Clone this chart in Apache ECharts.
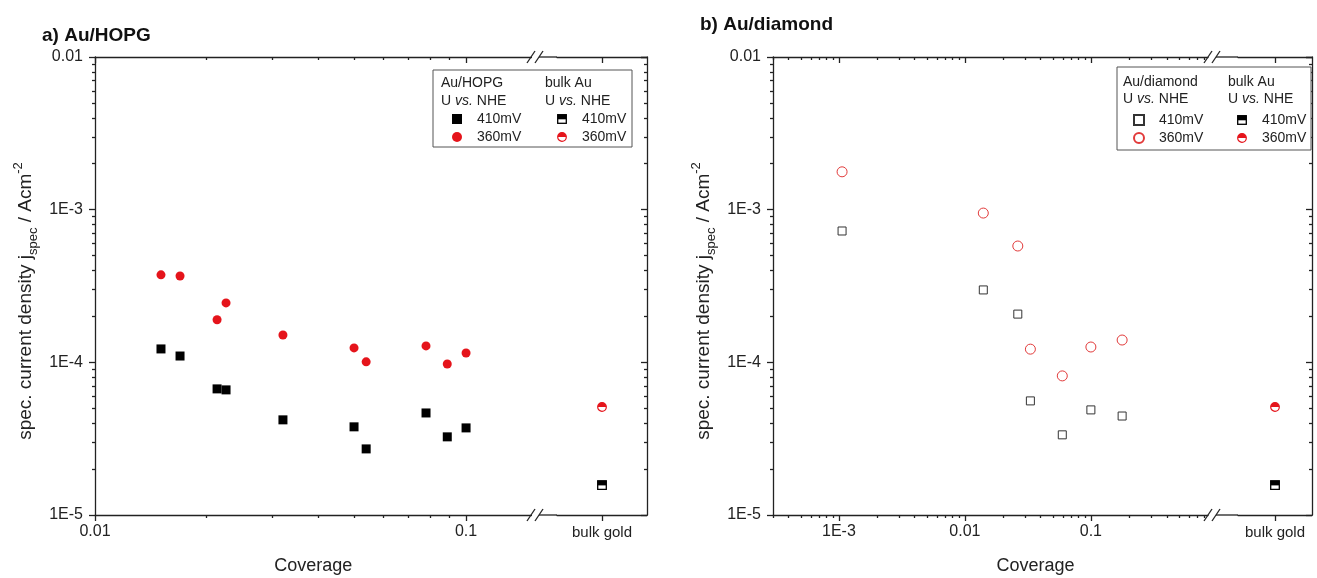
<!DOCTYPE html>
<html><head><meta charset="utf-8">
<script src="https://cdn.jsdelivr.net/npm/echarts@6/dist/echarts.min.js"></script>
<style>html,body{margin:0;padding:0;background:#fff}#c{width:1317px;height:578px}</style>
</head><body><div id="c"></div><script>
const FONT = '"Liberation Sans", Arial, Helvetica, sans-serif';
const AX = '#222';
const RED = '#e5141b';

// ---- data: panel a) Au/HOPG ----
const hopgCoverage = [0.01506, 0.01695, 0.02133, 0.02255, 0.0321, 0.0499, 0.0538, 0.078, 0.089, 0.1];
const hopg410 = [1.224e-4, 1.10e-4, 6.70e-5, 6.60e-5, 4.20e-5, 3.78e-5, 2.71e-5, 4.66e-5, 3.25e-5, 3.72e-5];
const hopg360 = [3.74e-4, 3.68e-4, 1.90e-4, 2.45e-4, 1.51e-4, 1.243e-4, 1.007e-4, 1.281e-4, 9.76e-5, 1.152e-4];
// ---- data: panel b) Au/diamond ----
const diaCoverage = [1.06e-3, 0.0140, 0.0263, 0.0331, 0.0593, 0.1, 0.177];
const dia410 = [7.25e-4, 2.98e-4, 2.07e-4, 5.59e-5, 3.35e-5, 4.88e-5, 4.45e-5];
const dia360 = [1.77e-3, 9.5e-4, 5.78e-4, 1.22e-4, 8.15e-5, 1.26e-4, 1.40e-4];
// ---- bulk gold reference ----
const bulkCategory = ['bulk gold'];
const bulk410 = [1.57e-5];
const bulk360 = [5.1e-5];
// ---- ticks ----
const leftXMajor = [0.01, 0.1];
const rightXMajor = [0.001, 0.01, 0.1];
const yDecades = [1e-5, 1e-4, 1e-3];
const leftXDecades = [0.01, 0.1];
const rightXDecades = [1e-4, 1e-3, 0.01, 0.1];
const minorMult = [2, 3, 4, 5, 6, 7, 8, 9];
function minorTicks(decades) {
  const out = [];
  decades.forEach(d => minorMult.forEach(m => out.push(+(d * m).toPrecision(3))));
  return out;
}
const yMinor = minorTicks(yDecades);
const leftXMinor = minorTicks(leftXDecades);
const rightXMinor = minorTicks(rightXDecades);

function fmtLog(v) {
  const e = Math.round(Math.log10(v));
  return e >= -2 ? String(+v.toPrecision(3)) : '1E' + e;
}
const lineS = { color: AX, width: 1.3 };
const labelS = { fontSize: 16, color: '#222', fontFamily: FONT };

function logX(grid, pos, min, max, kind, ticks) {
  const isMain = kind === 'major';
  return {
    type: 'log', logBase: 10, gridIndex: grid, position: pos, min: min, max: max,
    axisLine: { show: isMain, onZero: false, lineStyle: lineS },
    axisTick: { show: true, inside: pos === 'top', length: isMain ? 6 : 3, lineStyle: lineS, customValues: ticks },
    axisLabel: { show: false },
    splitLine: { show: false }, minorTick: { show: false }
  };
}
function logY(grid, pos, kind, ticks) {
  const isMain = kind === 'major';
  const o = {
    type: 'log', logBase: 10, gridIndex: grid, position: pos, min: 1e-5, max: 0.01,
    axisLine: { show: isMain, onZero: false, lineStyle: lineS },
    axisTick: { show: true, inside: pos === 'right', length: isMain ? 6 : 3, lineStyle: lineS },
    axisLabel: { show: false },
    splitLine: { show: false }, minorTick: { show: false }
  };
  if (ticks) o.axisTick.customValues = ticks;
  return o;
}
function catX(grid, pos) {
  return {
    type: 'category', gridIndex: grid, position: pos, data: bulkCategory, boundaryGap: true,
    axisLine: { show: true, onZero: false, lineStyle: lineS },
    axisTick: { show: true, alignWithLabel: true, inside: pos === 'top', length: 6, lineStyle: lineS },
    axisLabel: pos === 'bottom' ? Object.assign({ margin: 10 }, labelS, { fontSize: 15 }) : { show: false },
    splitLine: { show: false }
  };
}
const yName = 'spec. current density j{sub|spec} / Acm{sup|-2}';
const yNameStyle = {
  fontSize: 19, color: '#222', fontFamily: FONT, lineHeight: 28, padding: [0, 30, 0, 0],
  rich: {
    sub: { fontSize: 13, fontFamily: FONT, color: '#222', verticalAlign: 'bottom', lineHeight: 28, padding: [6, 0, 0, 0] },
    sup: { fontSize: 13, fontFamily: FONT, color: '#222', verticalAlign: 'top', lineHeight: 28, padding: [0, 0, 8, 0] }
  }
};

// x axes
const xA0 = logX(0, 'bottom', 0.01, 0.15, 'major', leftXMajor);
xA0.axisLabel = Object.assign({ show: true, customValues: leftXMajor, formatter: fmtLog, margin: 9 }, labelS);
xA0.name = 'Coverage'; xA0.nameLocation = 'middle'; xA0.nameGap = 42;
xA0.nameTextStyle = { fontSize: 18, color: '#222', fontFamily: FONT };
const xA6 = logX(2, 'bottom', 3e-4, 0.85, 'major', rightXMajor);
xA6.axisLabel = Object.assign({ show: true, customValues: rightXMajor, formatter: fmtLog, margin: 9 }, labelS);
xA6.name = 'Coverage'; xA6.nameLocation = 'middle'; xA6.nameGap = 42;
xA6.nameTextStyle = { fontSize: 18, color: '#222', fontFamily: FONT, padding: [0, 0, 0, 90] };

const xAxes = [
  xA0,
  logX(0, 'bottom', 0.01, 0.15, 'minor', leftXMinor),
  logX(0, 'top', 0.01, 0.15, 'major', leftXMajor),
  logX(0, 'top', 0.01, 0.15, 'minor', leftXMinor),
  catX(1, 'bottom'),
  catX(1, 'top'),
  xA6,
  logX(2, 'bottom', 3e-4, 0.85, 'minor', rightXMinor),
  logX(2, 'top', 3e-4, 0.85, 'major', rightXMajor),
  logX(2, 'top', 3e-4, 0.85, 'minor', rightXMinor),
  catX(3, 'bottom'),
  catX(3, 'top')
];
// y axes
const yA0 = logY(0, 'left', 'major');
yA0.axisLabel = Object.assign({ show: true, formatter: fmtLog, margin: 12 }, labelS);
yA0.name = yName; yA0.nameLocation = 'middle'; yA0.nameGap = 55; yA0.nameTextStyle = yNameStyle;
const yA4 = logY(2, 'left', 'major');
yA4.axisLabel = Object.assign({ show: true, formatter: fmtLog, margin: 12 }, labelS);
yA4.name = yName; yA4.nameLocation = 'middle'; yA4.nameGap = 55; yA4.nameTextStyle = yNameStyle;
const yAxes = [
  yA0,
  logY(0, 'left', 'minor', yMinor),
  logY(1, 'right', 'major'),
  logY(1, 'right', 'minor', yMinor),
  yA4,
  logY(2, 'left', 'minor', yMinor),
  logY(3, 'right', 'major'),
  logY(3, 'right', 'minor', yMinor)
];

function svgUrl(s) { return 'image://data:image/svg+xml;charset=utf-8,' + encodeURIComponent(s); }
const halfSquare = svgUrl('<svg xmlns="http://www.w3.org/2000/svg" width="20" height="20" viewBox="0 0 10 10"><rect x="0.7" y="0.7" width="8.6" height="8.6" fill="#fff" stroke="#000" stroke-width="1.3"/><rect x="0.7" y="0.7" width="8.6" height="4.6" fill="#000"/></svg>');
const halfCircle = svgUrl('<svg xmlns="http://www.w3.org/2000/svg" width="20" height="20" viewBox="0 0 10 10"><circle cx="5" cy="5" r="4.3" fill="#fff" stroke="' + RED + '" stroke-width="1.2"/><path d="M0.7 5 A4.3 4.3 0 0 1 9.3 5 Z" fill="' + RED + '"/></svg>');

const legendNames = {
  hopg410: '410mV', hopg360: '360mV', bulkA410: '410mV', bulkA360: '360mV',
  dia410: '410mV', dia360: '360mV', bulkB410: '410mV', bulkB360: '360mV'
};
const series = [
  { name: 'hopg410', type: 'scatter', xAxisIndex: 0, yAxisIndex: 0, symbol: 'rect', symbolSize: 9,
    itemStyle: { color: '#000' }, data: hopgCoverage.map((c, i) => [c, hopg410[i]]) },
  { name: 'hopg360', type: 'scatter', xAxisIndex: 0, yAxisIndex: 0, symbol: 'circle', symbolSize: 9,
    itemStyle: { color: RED }, data: hopgCoverage.map((c, i) => [c, hopg360[i]]) },
  { name: 'bulkA410', type: 'scatter', xAxisIndex: 4, yAxisIndex: 2, symbol: halfSquare, symbolSize: 10,
    data: bulk410 },
  { name: 'bulkA360', type: 'scatter', xAxisIndex: 4, yAxisIndex: 2, symbol: halfCircle, symbolSize: 10,
    data: bulk360 },
  { name: 'dia410', type: 'scatter', xAxisIndex: 6, yAxisIndex: 4, symbol: 'rect', symbolSize: 8,
    itemStyle: { color: '#fff', borderColor: '#333', borderWidth: 1 }, data: diaCoverage.map((c, i) => [c, dia410[i]]) },
  { name: 'dia360', type: 'scatter', xAxisIndex: 6, yAxisIndex: 4, symbol: 'circle', symbolSize: 10,
    itemStyle: { color: '#fff', borderColor: '#e23a3a', borderWidth: 1 }, data: diaCoverage.map((c, i) => [c, dia360[i]]) },
  { name: 'bulkB410', type: 'scatter', xAxisIndex: 10, yAxisIndex: 6, symbol: halfSquare, symbolSize: 10,
    data: bulk410 },
  { name: 'bulkB360', type: 'scatter', xAxisIndex: 10, yAxisIndex: 6, symbol: halfCircle, symbolSize: 10,
    data: bulk360 }
];
series.forEach(s => {
  s.z = 5; s.silent = true; s.animation = false;
  s.itemStyle = Object.assign({ opacity: 1 }, s.itemStyle || {});
});

function legend(names, left, top) {
  return {
    data: names, left: left, top: top, orient: 'vertical', padding: 0, itemGap: 4,
    itemWidth: 10, itemHeight: 10, selectedMode: false, z: 10,
    formatter: n => legendNames[n],
    textStyle: { fontSize: 14, color: '#222', fontFamily: FONT, lineHeight: 14, padding: [0, 0, 0, 10] }
  };
}

const txt = (x, y, t, extra) => Object.assign({ type: 'text', x: x, y: y, z: 5,
  style: Object.assign({ text: t, fontSize: 14, fill: '#222', fontFamily: FONT, verticalAlign: 'middle',
    rich: { i: { fontStyle: 'italic', fontSize: 14, fontFamily: FONT, fill: '#222' } } }, extra || {}) });
const ln = (x1, y1, x2, y2) => ({ type: 'line', z: 5, shape: { x1, y1, x2, y2 }, style: { stroke: AX, lineWidth: 1.3 } });
function breakMarks(x, y) {
  return [ln(x - 4, y + 6, x + 4, y - 6), ln(x + 4, y + 6, x + 12, y - 6)];
}
const graphics = [
  // legend boxes
  { type: 'rect', z: 1, shape: { x: 433, y: 70, width: 199, height: 77 }, style: { fill: '#fff', stroke: '#555', lineWidth: 1 } },
  txt(441, 83, 'Au/HOPG'), txt(441, 101, 'U {i|vs.} NHE'),
  txt(545, 83, 'bulk Au'), txt(545, 101, 'U {i|vs.} NHE'),
  { type: 'rect', z: 1, shape: { x: 1117, y: 67, width: 194, height: 83 }, style: { fill: '#fff', stroke: '#555', lineWidth: 1 } },
  txt(1123, 82, 'Au/diamond'), txt(1123, 99, 'U {i|vs.} NHE'),
  txt(1228, 82, 'bulk Au'), txt(1228, 99, 'U {i|vs.} NHE'),
  // axis breaks, left panel
  ...breakMarks(531, 515), ...breakMarks(531, 57),
  ln(539, 515, 557, 515), ln(539, 57, 557, 57),
  // axis breaks, right panel
  ...breakMarks(1208, 515), ...breakMarks(1208, 57),
  ln(1216, 515, 1238, 515), ln(1216, 57, 1238, 57)
];

const grid = (left, width) => ({ left: left, top: 57, width: width, height: 458, containLabel: false, outerBoundsMode: 'none' });

const option = {
  animation: false,
  backgroundColor: '#fff',
  title: [
    { text: 'a) Au/HOPG', left: 37, top: 21, textStyle: { fontSize: 19, fontWeight: 'bold', color: '#111', fontFamily: FONT } },
    { text: 'b) Au/diamond', left: 695, top: 10, textStyle: { fontSize: 19, fontWeight: 'bold', color: '#111', fontFamily: FONT } }
  ],
  grid: [grid(95, 436.4), grid(557, 90), grid(773, 435), grid(1238, 74)],
  xAxis: xAxes,
  yAxis: yAxes,
  legend: [
    legend(['hopg410', 'hopg360'], 452, 112),
    legend(['bulkA410', 'bulkA360'], 557, 112),
    legend(['dia410', 'dia360'], 1133, 113),
    legend(['bulkB410', 'bulkB360'], 1237, 113)
  ],
  graphic: graphics,
  series: series
};
const chart = echarts.init(document.getElementById('c'), null, { renderer: 'canvas' });
chart.setOption(option);
</script></body></html>
